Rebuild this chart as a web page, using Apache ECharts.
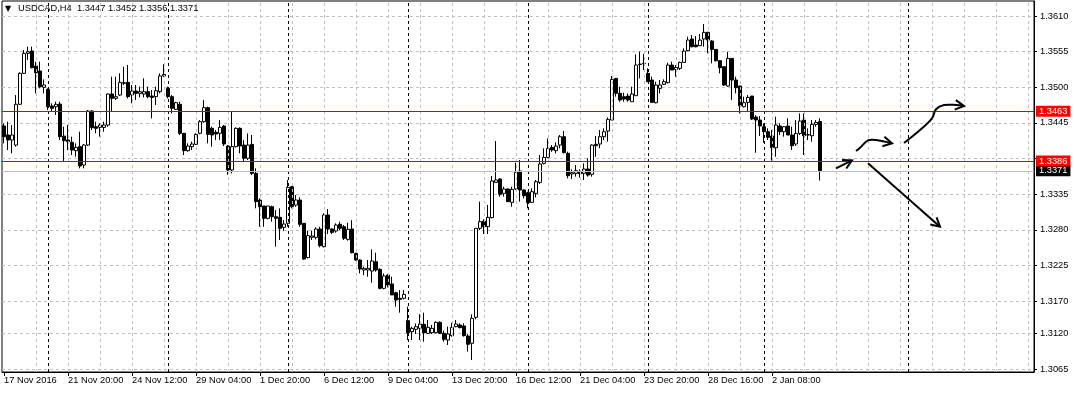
<!DOCTYPE html>
<html><head><meta charset="utf-8">
<script src="https://cdn.jsdelivr.net/npm/echarts@6/dist/echarts.min.js"></script>
<style>html,body{margin:0;padding:0;background:#fff}#c{width:1074px;height:393px}</style>
</head><body><div id="c"></div>
<script>
const symbolName = 'USDCAD,H4';
const candleOpen = [
1.34402,1.34263,1.34186,1.34108,1.34738,1.35215,1.35524,1.35560,1.35328,1.35251,
1.34999,1.34968,1.34711,1.34700,1.34741,1.34247,1.34186,1.34150,1.34021,1.34083,
1.33800,1.34108,1.34633,1.34392,1.34381,1.34381,1.34417,1.34896,1.34829,1.34880,
1.35060,1.35076,1.34880,1.34942,1.34906,1.34896,1.34932,1.34865,1.34855,1.34932,
1.35174,1.34983,1.34855,1.34659,1.34736,1.34289,1.34021,1.34083,1.34119,1.34289,
1.34469,1.34685,1.34366,1.34304,1.34289,1.34402,1.34093,1.33723,1.34083,1.34366,
1.34108,1.33903,1.34119,1.33671,1.33259,1.33167,1.32976,1.33156,1.33002,1.32992,
1.32837,1.32899,1.33465,1.33182,1.33259,1.32899,1.32369,1.32683,1.32683,1.32812,
1.32539,1.33028,1.32812,1.32781,1.32884,1.32847,1.32652,1.32812,1.32436,1.32333,
1.32179,1.32179,1.32163,1.32307,1.32189,1.31896,1.32101,1.31963,1.31829,1.31741,
1.31741,1.31397,1.31227,1.31263,1.31278,1.31340,1.31201,1.31211,1.31211,1.31371,
1.31201,1.31098,1.31165,1.31304,1.31330,1.31314,1.31160,1.31047,1.31448,1.32822,
1.32935,1.32848,1.32987,1.33532,1.33584,1.33362,1.33429,1.33223,1.33429,1.33707,
1.33414,1.33373,1.33223,1.33362,1.33532,1.33825,1.33918,1.34072,1.34021,1.34108,
1.34237,1.33980,1.33661,1.33671,1.33702,1.33671,1.33738,1.33656,1.34119,1.34124,
1.34237,1.34324,1.34494,1.35137,1.34906,1.34855,1.34865,1.34777,1.34870,1.35353,
1.35369,1.35215,1.35112,1.34762,1.34983,1.35045,1.35071,1.35343,1.35276,1.35292,
1.35384,1.35565,1.35745,1.35652,1.35642,1.35745,1.35848,1.35714,1.35585,1.35410,
1.35318,1.35019,1.35446,1.35112,1.35019,1.34700,1.34767,1.34865,1.34540,1.34494,
1.34391,1.34314,1.34247,1.34067,1.34402,1.34314,1.34402,1.34263,1.34124,1.34288,
1.34494,1.34263,1.34252,1.34427,1.34470];
const candleHigh = [
1.34443,1.34469,1.34417,1.34880,1.35231,1.35575,1.35627,1.35627,1.35395,1.35395,
1.35122,1.34983,1.34752,1.34777,1.34777,1.34392,1.34417,1.34237,1.34134,1.34314,
1.34124,1.34649,1.34649,1.34469,1.34443,1.34469,1.34906,1.35163,1.35163,1.35215,
1.35318,1.35344,1.35035,1.35035,1.35009,1.35138,1.35009,1.34957,1.35009,1.35215,
1.35354,1.35009,1.34880,1.34777,1.34777,1.34289,1.34134,1.34160,1.34289,1.34494,
1.34803,1.34700,1.34392,1.34340,1.34494,1.34417,1.34108,1.34633,1.34381,1.34381,
1.34185,1.34288,1.34263,1.33748,1.33285,1.33167,1.33167,1.33172,1.33105,1.33131,
1.32950,1.33568,1.33475,1.33336,1.33300,1.32899,1.32786,1.32786,1.32837,1.32847,
1.33053,1.33120,1.32822,1.32899,1.32925,1.32873,1.32909,1.32950,1.32446,1.32343,
1.32230,1.32333,1.32498,1.32446,1.32204,1.32127,1.32112,1.32076,1.31844,1.31870,
1.31870,1.31613,1.31304,1.31355,1.31499,1.31520,1.31407,1.31330,1.31386,1.31386,
1.31242,1.31304,1.31366,1.31407,1.31355,1.31355,1.31191,1.31494,1.32822,1.33234,
1.32961,1.33182,1.33630,1.34170,1.33594,1.33465,1.33439,1.33465,1.33836,1.33877,
1.33424,1.33388,1.33439,1.33568,1.33954,1.34057,1.34211,1.34108,1.34150,1.34263,
1.34325,1.34005,1.33733,1.33800,1.33733,1.33825,1.33903,1.34119,1.34247,1.34340,
1.34366,1.34535,1.35173,1.35137,1.35009,1.34916,1.34906,1.35009,1.35508,1.35549,
1.35513,1.35292,1.35163,1.35086,1.35112,1.35122,1.35379,1.35395,1.35343,1.35395,
1.35601,1.35781,1.35806,1.35791,1.35822,1.35976,1.35858,1.35729,1.35585,1.35420,
1.35318,1.35549,1.35446,1.35163,1.35024,1.34855,1.34880,1.34865,1.34571,1.34556,
1.34443,1.34366,1.34340,1.34546,1.34443,1.34402,1.34520,1.34391,1.34494,1.34597,
1.34597,1.34366,1.34494,1.34494,1.34520];
const candleLow = [
1.34134,1.34031,1.33980,1.34083,1.34726,1.35205,1.35421,1.35292,1.34906,1.34983,
1.34906,1.34649,1.34623,1.34572,1.34186,1.33851,1.34031,1.33954,1.33928,1.33748,
1.33748,1.34093,1.34340,1.34289,1.34237,1.34314,1.34392,1.34623,1.34803,1.34865,
1.35035,1.34829,1.34752,1.34803,1.34844,1.34844,1.34829,1.34520,1.34726,1.34906,
1.35164,1.34829,1.34597,1.34649,1.34263,1.33954,1.34005,1.34031,1.34108,1.34273,
1.34453,1.34134,1.34083,1.34186,1.34186,1.34093,1.33650,1.33671,1.34072,1.33980,
1.33851,1.33877,1.33645,1.33131,1.32847,1.32847,1.32961,1.32925,1.32539,1.32642,
1.32781,1.32847,1.33131,1.33156,1.32847,1.32333,1.32359,1.32642,1.32652,1.32528,
1.32528,1.32734,1.32734,1.32755,1.32796,1.32642,1.32632,1.32436,1.32323,1.32127,
1.32101,1.32076,1.31983,1.32153,1.31880,1.31880,1.31911,1.31793,1.31613,1.31520,
1.31726,1.31098,1.31098,1.31191,1.31098,1.31072,1.31191,1.31191,1.31201,1.31191,
1.31072,1.31021,1.31150,1.31294,1.31278,1.31150,1.30918,1.30789,1.31417,1.32796,
1.32734,1.32734,1.32976,1.33532,1.33311,1.33311,1.33234,1.33156,1.33414,1.33234,
1.33285,1.33131,1.33218,1.33300,1.33506,1.33810,1.33903,1.34005,1.33980,1.34057,
1.33980,1.33594,1.33584,1.33620,1.33604,1.33568,1.33620,1.33620,1.33928,1.34057,
1.34185,1.34160,1.34494,1.34855,1.34777,1.34777,1.34777,1.34777,1.34870,1.35137,
1.35266,1.35086,1.34767,1.34752,1.34906,1.35035,1.35060,1.35266,1.35163,1.35266,
1.35384,1.35559,1.35616,1.35616,1.35637,1.35626,1.35524,1.35369,1.35395,1.35215,
1.35019,1.35009,1.34803,1.34906,1.34597,1.34690,1.34623,1.34494,1.33990,1.34247,
1.34144,1.34185,1.33866,1.33928,1.34263,1.34237,1.34263,1.34031,1.34093,1.34263,
1.33954,1.34185,1.34160,1.34391,1.33560];
const candleClose = [
1.34237,1.34186,1.34263,1.34738,1.35215,1.35524,1.35549,1.35302,1.35225,1.35009,
1.35035,1.34700,1.34675,1.34736,1.34237,1.34175,1.34160,1.34031,1.34072,1.33784,
1.34108,1.34633,1.34376,1.34366,1.34417,1.34417,1.34896,1.34829,1.34855,1.35076,
1.35071,1.34855,1.34942,1.34906,1.34932,1.34932,1.34855,1.34844,1.34947,1.35174,
1.35199,1.34855,1.34675,1.34762,1.34289,1.34021,1.34093,1.34124,1.34273,1.34469,
1.34685,1.34273,1.34263,1.34278,1.34381,1.34124,1.33723,1.34083,1.34366,1.34093,
1.33903,1.34108,1.33671,1.33234,1.33156,1.32976,1.33167,1.33002,1.32976,1.32822,
1.32889,1.33455,1.33156,1.33259,1.32884,1.32348,1.32709,1.32704,1.32812,1.32554,
1.33028,1.32812,1.32760,1.32873,1.32822,1.32668,1.32806,1.32446,1.32333,1.32194,
1.32204,1.32204,1.32318,1.32179,1.31896,1.32086,1.31947,1.31793,1.31716,1.31726,
1.31803,1.31211,1.31278,1.31304,1.31345,1.31211,1.31294,1.31278,1.31371,1.31201,
1.31108,1.31191,1.31294,1.31345,1.31289,1.31165,1.31031,1.31433,1.32822,1.32925,
1.32847,1.32992,1.33553,1.33568,1.33347,1.33429,1.33234,1.33424,1.33687,1.33414,
1.33326,1.33218,1.33388,1.33542,1.33815,1.33918,1.34057,1.34031,1.34093,1.34237,
1.33990,1.33635,1.33681,1.33712,1.33666,1.33738,1.33645,1.34108,1.34098,1.34237,
1.34314,1.34504,1.35122,1.34906,1.34803,1.34818,1.34803,1.34896,1.35343,1.35358,
1.35364,1.35086,1.34767,1.35035,1.35035,1.35086,1.35343,1.35266,1.35307,1.35384,
1.35559,1.35729,1.35626,1.35626,1.35729,1.35848,1.35729,1.35585,1.35410,1.35302,
1.35035,1.35446,1.35112,1.34993,1.34716,1.34762,1.34844,1.34510,1.34494,1.34402,
1.34314,1.34227,1.34067,1.34417,1.34314,1.34391,1.34263,1.34098,1.34288,1.34479,
1.34252,1.34268,1.34427,1.34458,1.33710];

const categoryCount = 258;
const xTickIndex = [0,16,32,48,64,80,96,112,128,144,160,176,192];
const xTickLabels = ['17 Nov 2016','21 Nov 20:00','24 Nov 12:00','29 Nov 04:00','1 Dec 20:00','6 Dec 12:00','9 Dec 04:00','13 Dec 20:00','16 Dec 12:00','21 Dec 04:00','23 Dec 20:00','28 Dec 16:00','2 Jan 08:00'];
const separatorIndex = [11,41,71,101,131,161,190,226];
const yGridValues = [1.3065,1.3120,1.3170,1.3225,1.3280,1.3335,1.3390,1.3445,1.3500,1.3555,1.3610];
const yLabelValues = [1.3065,1.3120,1.3170,1.3225,1.3280,1.3335,1.3445,1.3500,1.3555,1.3610];
const levelLines = [1.3463, 1.3386];
const bidPrice = 1.3371;
const arrowPaths = [
  [[208.0,1.33749],[212.1,1.33872]],
  [[212.9,1.34016],[214.4,1.34067],[216.3,1.34181],[218.2,1.34186],[222.3,1.34135]],
  [[225.4,1.34139],[229.0,1.34340],[231.5,1.34521],[233.2,1.34660],[235.3,1.34726],[237.8,1.34726],[240.3,1.34711]],
  [[216.1,1.33826],[233.6,1.32847]]
];

const FONT = "'Liberation Sans', Arial, sans-serif";
const FS = 9.3;
const categories = Array.from({length: categoryCount}, (_, i) => String(i));
const tickMap = {};
xTickIndex.forEach((k, j) => { tickMap[k] = xTickLabels[j]; });
const candleData = candleOpen.map((o, i) => [o, candleClose[i], candleLow[i], candleHigh[i]]);
const gridIdx = [];
for (let k = 8; k < categoryCount; k += 8) gridIdx.push(k);
const last = candleData.length - 1;

function arrowSeries(pts) {
  return {
    type: 'custom', coordinateSystem: 'cartesian2d', silent: true, z: 6,
    data: [[pts[0][0], pts[0][1]]], encode: {x: 0, y: 1},
    renderItem: function (params, api) {
      const p = pts.map(q => api.coord(q));
      const n = p.length;
      const tip = p[n-1], prev = p[n-2];
      const ang = Math.atan2(tip[1]-prev[1], tip[0]-prev[0]);
      const L = 10, A = 0.5;
      const w1 = [tip[0] - L*Math.cos(ang - A), tip[1] - L*Math.sin(ang - A)];
      const w2 = [tip[0] - L*Math.cos(ang + A), tip[1] - L*Math.sin(ang + A)];
      return { type: 'group', children: [
        { type: 'polyline', shape: { points: p, smooth: n > 2 ? 0.35 : 0 }, style: { stroke: '#000', lineWidth: 2, fill: null } },
        { type: 'polyline', shape: { points: [w1, tip, w2] }, style: { stroke: '#000', lineWidth: 2, fill: null } }
      ]};
    }
  };
}

function levelLabel(text, bg) {
  return { show: true, position: 'end', formatter: text, distance: 2, color: '#fff', backgroundColor: bg,
    padding: [1, 3, 0, 3], fontFamily: FONT, fontSize: FS, lineHeight: 10 };
}

const chart = echarts.init(document.getElementById('c'), null, {renderer: 'canvas'});
const titleText = '{tri|▼}' + symbolName + '  ' + [candleOpen[last], candleHigh[last], candleLow[last], candleClose[last]].map(v => v.toFixed(4)).join(' ');
chart.setOption({
  animation: false,
  backgroundColor: '#fff',
  title: { text: titleText, left: 5, top: 4, padding: 0,
    textStyle: { fontFamily: FONT, fontSize: FS, fontWeight: 'normal', color: '#000',
      rich: { tri: { fontSize: 8, color: '#000', width: 13, fontFamily: "'DejaVu Sans'" } } } },
  grid: { left: 2, right: 40, top: 1, bottom: 21, show: true, borderColor: '#000', borderWidth: 1, backgroundColor: '#fff' },
  xAxis: {
    type: 'category', data: categories, boundaryGap: true,
    axisLine: { show: true, lineStyle: { color: '#000', width: 1 } },
    axisTick: { show: true, alignWithLabel: true, length: 4, interval: (i) => tickMap.hasOwnProperty(i), lineStyle: { color: '#000' } },
    axisLabel: { interval: (i) => tickMap.hasOwnProperty(i), formatter: (v, i) => tickMap[i] || '', align: 'left', margin: 4,
      color: '#000', fontFamily: FONT, fontSize: FS },
    splitLine: { show: false }
  },
  yAxis: {
    type: 'value', position: 'right', min: 1.30604, max: 1.36332, scale: true,
    axisLine: { show: true, lineStyle: { color: '#000' } },
    axisTick: { show: true, length: 3, customValues: yGridValues, lineStyle: { color: '#000' } },
    axisLabel: { customValues: yLabelValues, formatter: (v) => v.toFixed(4), margin: 6, color: '#000', fontFamily: FONT, fontSize: FS },
    splitLine: { show: true, lineStyle: { color: '#c0c0c0', type: [3, 3], width: 1 } }
  },
  series: [
    { type: 'line', data: candleOpen.map(() => null), z: 1, silent: true, symbol: 'none',
      markLine: { silent: true, symbol: ['none','none'], label: { show: false }, precision: 6,
        data: gridIdx.map(k => ({ xAxis: k, lineStyle: { color: '#c0c0c0', type: [3,3], width: 1 } }))
          .concat(separatorIndex.map(k => ({ xAxis: k, lineStyle: { color: '#000', type: [3,3], width: 1 } }))) } },
    { type: 'candlestick', data: candleData, z: 3, barWidth: 3,
      itemStyle: { color: '#fff', color0: '#000', borderColor: '#000', borderColor0: '#000', borderColorDoji: '#000', borderWidth: 1 } },
    { type: 'line', data: candleOpen.map(() => null), z: 5, silent: true, symbol: 'none',
      markLine: { silent: true, symbol: ['none','none'], precision: 6,
        data: [
          { yAxis: bidPrice, lineStyle: { color: '#c0c0c0', type: 'solid', width: 1 }, label: levelLabel(bidPrice.toFixed(4), '#000') }
        ].concat(levelLines.map(v => ({ yAxis: v, lineStyle: { color: '#dd0000', type: 'solid', width: 1 },
            label: levelLabel(v.toFixed(4), '#ff0000') }))) } }
  ].concat(arrowPaths.map(arrowSeries))
});
</script>
</body></html>
